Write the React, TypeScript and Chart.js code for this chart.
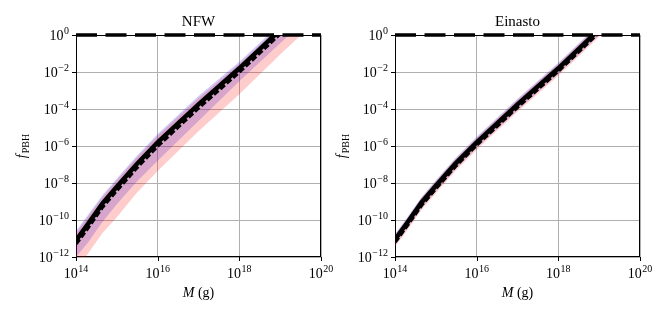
import React, { useEffect, useRef } from 'react';
import { Chart, registerables } from 'chart.js';
Chart.register(...registerables);

// log10 of mass (g)
const massExp = [14, 14.3, 14.65, 15, 15.48, 16, 17, 18, 19, 20];

// NFW (log10 f_PBH)
const nfwSolidExp = [-11.1, -10.2, -9.1, -8.2, -7.0, -5.8, -3.75, -1.8, 0.27, 2.3];
const nfwDashExp = [-11.3, -10.4, -9.3, -8.4, -7.2, -6.0, -3.95, -2.0, 0.07, 2.1];
const nfwBlueUpExp = [-10.6, -9.7, -8.65, -7.75, -6.55, -5.35, -3.3, -1.45, 0.6, 2.6];
const nfwBlueLowExp = [-12.0, -11.2, -10.1, -9.15, -7.95, -6.8, -4.65, -2.5, -0.45, 1.6];
const nfwRedUpExp = [-10.7, -9.8, -8.75, -7.85, -6.65, -5.45, -3.4, -1.55, 0.5, 2.5];
const nfwRedLowExp = [-12.7, -11.8, -10.7, -9.85, -8.55, -7.35, -5.2, -3.2, -1.05, 1.0];

// Einasto (log10 f_PBH)
const einSolidExp = [-11.05, -10.15, -9.05, -8.15, -6.95, -5.8, -3.75, -1.8, 0.3, 2.3];
const einDashExp = [-11.2, -10.3, -9.2, -8.3, -7.1, -5.95, -3.9, -1.95, 0.15, 2.15];
const einBlueUpExp = [-10.75, -9.85, -8.75, -7.85, -6.65, -5.5, -3.45, -1.5, 0.6, 2.6];
const einBlueLowExp = [-11.35, -10.45, -9.35, -8.45, -7.25, -6.1, -4.05, -2.1, 0.0, 2.0];
const einRedUpExp = [-10.8, -9.9, -8.8, -7.9, -6.7, -5.55, -3.5, -1.55, 0.55, 2.55];
const einRedLowExp = [-11.45, -10.55, -9.45, -8.55, -7.35, -6.2, -4.15, -2.2, -0.1, 1.9];

// unit line f_PBH = 1
const unitMass = [1e14, 1e20];
const unitF = [1, 1];

const xTickExp = [14, 16, 18, 20];
const yTickExp = [0, -2, -4, -6, -8, -10, -12];

const FONT = '"Liberation Serif", "DejaVu Serif", serif';

const pts = (xe: number[], ye: number[]) => xe.map((e, i) => ({ x: Math.pow(10, e), y: Math.pow(10, ye[i]) }));

function drawPow(ctx: CanvasRenderingContext2D, exp: number, x: number, y: number, align: 'right' | 'center') {
  const base = '10';
  const sup = exp < 0 ? '\u2212' + Math.abs(exp) : String(exp);
  ctx.font = `14px ${FONT}`;
  const wb = ctx.measureText(base).width;
  ctx.font = `10px ${FONT}`;
  const ws = ctx.measureText(sup).width;
  const total = wb + ws + 0.5;
  const left = align === 'right' ? x - total : x - total / 2;
  ctx.textAlign = 'left';
  ctx.textBaseline = 'alphabetic';
  ctx.font = `14px ${FONT}`;
  ctx.fillText(base, left, y);
  ctx.font = `10px ${FONT}`;
  ctx.fillText(sup, left + wb + 0.5, y - 6);
}

function makeDecor(title: string, ylabelX: number) {
  return {
    id: 'decor',
    beforeDatasetsDraw(chart: any) {
      const { ctx, chartArea: a, scales } = chart;
      const xs = scales.x, ys = scales.y;
      ctx.save();
      ctx.strokeStyle = '#000';
      ctx.lineWidth = 1;
      ctx.strokeRect(Math.round(a.left) + 0.5, Math.round(a.top) + 0.5, Math.round(a.right - a.left) - 1, Math.round(a.bottom - a.top) - 1);
      ctx.beginPath();
      xTickExp.forEach((e) => {
        const px = Math.round(xs.getPixelForValue(Math.pow(10, e))) + 0.5;
        ctx.moveTo(px, a.bottom);
        ctx.lineTo(px, a.bottom + 4);
      });
      yTickExp.forEach((e) => {
        const py = Math.round(ys.getPixelForValue(Math.pow(10, e))) + 0.5;
        ctx.moveTo(a.left - 4, py);
        ctx.lineTo(a.left, py);
      });
      ctx.stroke();
      ctx.restore();
    },
    afterDraw(chart: any) {
      const { ctx, chartArea: a, scales } = chart;
      const xs = scales.x, ys = scales.y;
      ctx.save();
      ctx.fillStyle = '#000';
      xTickExp.forEach((e) => {
        const px = xs.getPixelForValue(Math.pow(10, e));
        drawPow(ctx, e, px, 278, 'center');
      });
      yTickExp.forEach((e) => {
        const py = ys.getPixelForValue(Math.pow(10, e));
        drawPow(ctx, e, a.left - 7, py + 5, 'right');
      });
      // title
      ctx.font = `15px ${FONT}`;
      ctx.textAlign = 'center';
      ctx.textBaseline = 'alphabetic';
      ctx.fillText(title, (a.left + a.right) / 2, 26);
      // x label
      ctx.textAlign = 'left';
      ctx.font = `italic 14px ${FONT}`;
      const wM = ctx.measureText('M').width;
      ctx.font = `14px ${FONT}`;
      const wR = ctx.measureText(' (g)').width;
      const cx = (a.left + a.right) / 2 - (wM + wR) / 2;
      ctx.font = `italic 14px ${FONT}`;
      ctx.fillText('M', cx, 297);
      ctx.font = `14px ${FONT}`;
      ctx.fillText(' (g)', cx + wM, 297);
      // y label
      ctx.translate(ylabelX, (a.top + a.bottom) / 2);
      ctx.rotate(-Math.PI / 2);
      ctx.font = `italic 14px ${FONT}`;
      const wf = ctx.measureText('f').width;
      ctx.font = `10px ${FONT}`;
      const ws = ctx.measureText('PBH').width;
      const sx = -(wf + ws + 1) / 2;
      ctx.font = `italic 14px ${FONT}`;
      ctx.fillText('f', sx, 0);
      ctx.font = `10px ${FONT}`;
      ctx.fillText('PBH', sx + wf + 1, 3);
      ctx.restore();
    },
  };
}

function buildDatasets(s: number[], d: number[], bu: number[], bl: number[], ru: number[], rl: number[]) {
  const hidden = { borderWidth: 0, pointRadius: 0, fill: false, backgroundColor: 'rgba(0,0,0,0)', borderColor: 'rgba(0,0,0,0)' };
  return [
    { data: unitMass.map((m, i) => ({ x: m, y: unitF[i] })), borderColor: '#000', borderWidth: 3.5, borderDash: [21, 8.5], pointRadius: 0, fill: false, order: 0, clip: 6 },
    { data: pts(massExp, s), borderColor: '#000', borderWidth: 4.5, pointRadius: 0, fill: false, order: 1 },
    { data: pts(massExp, d), borderColor: '#000', borderWidth: 3.5, borderDash: [6, 2.5], pointRadius: 0, fill: false, order: 2 },
    { data: pts(massExp, bl), ...hidden, order: 10 },
    { data: pts(massExp, bu), borderWidth: 0, pointRadius: 0, borderColor: 'rgba(0,0,0,0)', backgroundColor: 'rgba(0,0,255,0.2)', fill: { target: 3 }, order: 9 },
    { data: pts(massExp, rl), ...hidden, order: 8 },
    { data: pts(massExp, ru), borderWidth: 0, pointRadius: 0, borderColor: 'rgba(0,0,0,0)', backgroundColor: 'rgba(255,0,0,0.2)', fill: { target: 5 }, order: 7 },
  ];
}

function makeConfig(datasets: any[], padding: any, title: string, ylabelX: number): any {
  return {
    type: 'line',
    data: { datasets },
    options: {
      responsive: false,
      animation: false,
      layout: { padding },
      plugins: { legend: { display: false }, tooltip: { enabled: false } },
      elements: { line: { tension: 0 } },
      scales: {
        x: {
          type: 'logarithmic', min: 1e14, max: 1e20, position: 'bottom',
          afterBuildTicks: (sc: any) => { sc.ticks = xTickExp.map((e) => ({ value: Math.pow(10, e) })); },
          afterFit: (sc: any) => { sc.height = 0; },
          ticks: { display: false },
          grid: { color: '#b0b0b0', lineWidth: 1, drawTicks: false },
          border: { display: false },
        },
        y: {
          type: 'logarithmic', min: 1e-12, max: 1, position: 'left',
          afterBuildTicks: (sc: any) => { sc.ticks = yTickExp.map((e) => ({ value: Math.pow(10, e) })); },
          afterFit: (sc: any) => { sc.width = 0; },
          ticks: { display: false },
          grid: { color: '#b0b0b0', lineWidth: 1, drawTicks: false },
          border: { display: false },
        },
      },
    },
    plugins: [makeDecor(title, ylabelX)],
  };
}

export default function App() {
  const leftRef = useRef<HTMLCanvasElement>(null);
  const rightRef = useRef<HTMLCanvasElement>(null);

  useEffect(() => {
    const c1 = new Chart(leftRef.current!, makeConfig(
      buildDatasets(nfwSolidExp, nfwDashExp, nfwBlueUpExp, nfwBlueLowExp, nfwRedUpExp, nfwRedLowExp),
      { left: 76, right: 12, top: 35, bottom: 57 }, 'NFW', 26));
    const c2 = new Chart(rightRef.current!, makeConfig(
      buildDatasets(einSolidExp, einDashExp, einBlueUpExp, einBlueLowExp, einRedUpExp, einRedLowExp),
      { left: 62, right: 27, top: 35, bottom: 57 }, 'Einasto', 13));
    return () => { c1.destroy(); c2.destroy(); };
  }, []);

  return (
    <div style={{ position: 'fixed', left: 0, top: 0, width: 667, height: 314, background: '#fff' }}>
      <canvas ref={leftRef} width={333} height={314} style={{ position: 'absolute', left: 0, top: 0, width: 333, height: 314 }} />
      <canvas ref={rightRef} width={334} height={314} style={{ position: 'absolute', left: 333, top: 0, width: 334, height: 314 }} />
    </div>
  );
}
